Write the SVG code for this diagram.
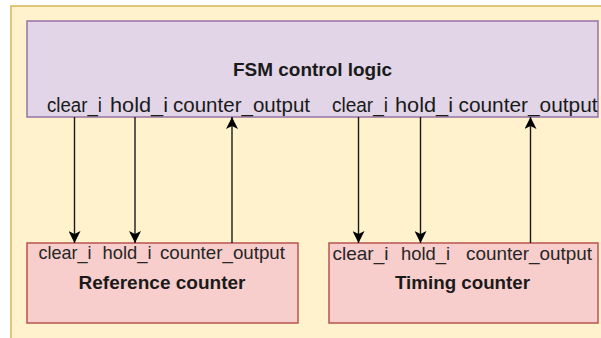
<svg xmlns="http://www.w3.org/2000/svg" width="601" height="338" viewBox="0 0 601 338">
  <defs>
    <style>
      .bg { fill: #fff2cc; stroke: #d6b656; stroke-width: 1.5; }
      .fsm { fill: #e1d5e7; stroke: #9673a6; stroke-width: 1.5; }
      .ctr { fill: #f8cecc; stroke: #b85450; stroke-width: 1.5; }
      .title { font-family: "Liberation Sans", Arial, sans-serif; font-size: 19px; font-weight: bold; fill: #1a1a1a; text-anchor: middle; }
      .port { font-family: "Liberation Sans", Arial, sans-serif; font-size: 20px; fill: #1a1a1a; }
      .port-sm { font-family: "Liberation Sans", Arial, sans-serif; font-size: 18.5px; fill: #262626; }
      .wire { stroke: #1a1a1a; stroke-width: 1.4; fill: none; }
    </style>
    <marker id="arrow" viewBox="0 0 12 12" refX="12" refY="6" markerWidth="12" markerHeight="12" markerUnits="userSpaceOnUse" orient="auto">
      <path d="M0,0 L12,6 L0,12 L3,6 Z" fill="#000"/>
    </marker>
  </defs>

  <!-- container background -->
  <rect class="bg" x="11" y="6" width="610" height="345"/>

  <!-- FSM block -->
  <g id="fsm">
    <rect class="fsm" x="27" y="21" width="571" height="96"/>
    <text class="title" x="312.5" y="76" textLength="159" lengthAdjust="spacingAndGlyphs">FSM control logic</text>
    <text class="port" x="47" y="111.5" textLength="55" lengthAdjust="spacingAndGlyphs">clear_i</text>
    <text class="port" x="110" y="111.5" textLength="58" lengthAdjust="spacingAndGlyphs">hold_i</text>
    <text class="port" x="173" y="111.5" textLength="137" lengthAdjust="spacingAndGlyphs">counter_output</text>
    <text class="port" x="332" y="111.5" textLength="56" lengthAdjust="spacingAndGlyphs">clear_i</text>
    <text class="port" x="395" y="111.5" textLength="58" lengthAdjust="spacingAndGlyphs">hold_i</text>
    <text class="port" x="458.5" y="111.5" textLength="139" lengthAdjust="spacingAndGlyphs">counter_output</text>
  </g>

  <!-- Reference counter block -->
  <g id="reference-counter">
    <rect class="ctr" x="27" y="243" width="271" height="80"/>
    <text class="port-sm" x="38.5" y="258.5" textLength="53" lengthAdjust="spacingAndGlyphs">clear_i</text>
    <text class="port-sm" x="102.5" y="258.5" textLength="49" lengthAdjust="spacingAndGlyphs">hold_i</text>
    <text class="port-sm" x="160" y="258.5" textLength="125" lengthAdjust="spacingAndGlyphs">counter_output</text>
    <text class="title" x="162" y="288.5" textLength="167" lengthAdjust="spacingAndGlyphs">Reference counter</text>
  </g>

  <!-- Timing counter block -->
  <g id="timing-counter">
    <rect class="ctr" x="329" y="243" width="269" height="80"/>
    <text class="port-sm" x="332.5" y="259.5" textLength="56" lengthAdjust="spacingAndGlyphs">clear_i</text>
    <text class="port-sm" x="401" y="259.5" textLength="49" lengthAdjust="spacingAndGlyphs">hold_i</text>
    <text class="port-sm" x="466" y="259.5" textLength="126" lengthAdjust="spacingAndGlyphs">counter_output</text>
    <text class="title" x="462.5" y="288.5" textLength="135" lengthAdjust="spacingAndGlyphs">Timing counter</text>
  </g>

  <!-- connectors -->
  <g id="connectors">
    <line class="wire" x1="74.5" y1="117" x2="74.5" y2="243" marker-end="url(#arrow)"/>
    <line class="wire" x1="135" y1="117" x2="135" y2="243" marker-end="url(#arrow)"/>
    <line class="wire" x1="232" y1="243" x2="232" y2="117" marker-end="url(#arrow)"/>
    <line class="wire" x1="358.5" y1="117" x2="358.5" y2="243" marker-end="url(#arrow)"/>
    <line class="wire" x1="420.5" y1="117" x2="420.5" y2="243" marker-end="url(#arrow)"/>
    <line class="wire" x1="530.5" y1="243" x2="530.5" y2="117" marker-end="url(#arrow)"/>
  </g>
</svg>
